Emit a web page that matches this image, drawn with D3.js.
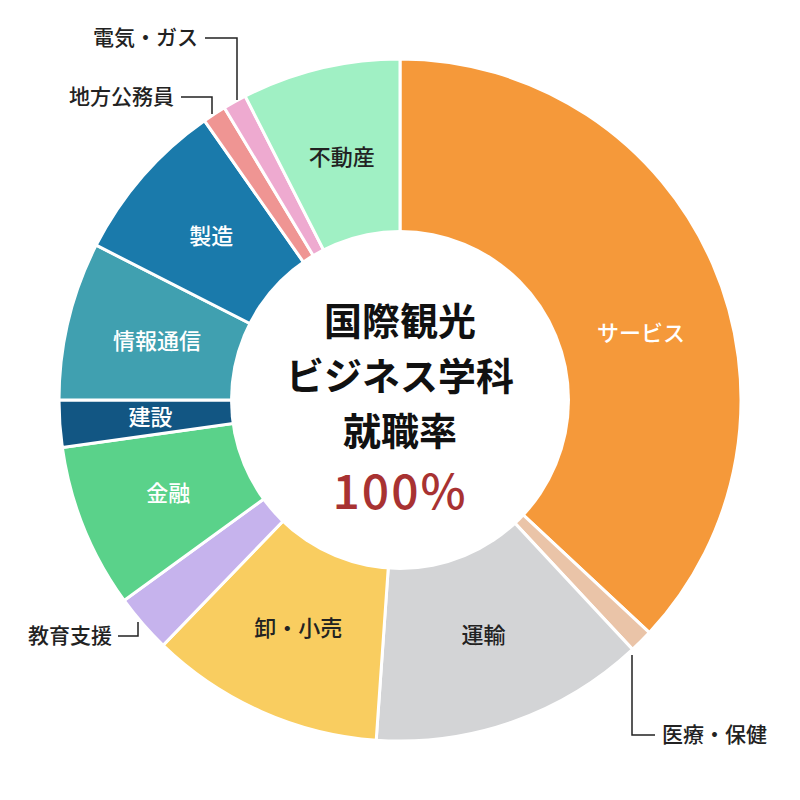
<!DOCTYPE html>
<html><head><meta charset="utf-8">
<script src="https://cdn.jsdelivr.net/npm/d3@7"></script>
<style>body{margin:0;background:#fff}text{font-family:"Noto Sans CJK JP",sans-serif}</style>
</head><body><div id="app"></div>
<script>
// slice values (degrees of the ring)
const categories = ['サービス','医療・保健','運輸','卸・小売','教育支援','金融','建設','情報通信','製造','地方公務員','電気・ガス','不動産'];
const values = [133, 4, 47, 40, 10, 28, 8, 27, 28, 4, 4, 27];
const colors = ['#f5993a','#eac4a8','#d3d4d6','#f9cd60','#c6b3ed','#5ad28a','#125683','#40a0b0','#1a7aab','#ef9593','#eeaad0','#a0f0c4'];
const inside = {'サービス':'#fff','運輸':'#222','卸・小売':'#222','金融':'#fff','建設':'#fff','情報通信':'#fff','製造':'#fff','不動産':'#222'};
const centerLines = ['国際観光','ビジネス学科','就職率'];
const rate = '100%';

const svg = d3.select('#app').append('svg').attr('width',800).attr('height',800);
const g = svg.append('g').attr('transform','translate(400,400)');
const data = categories.map((c,i) => ({name:c, value:values[i], color:colors[i]}));
const arcs = d3.pie().value(d => d.value).sort(null)(data);
const arc = d3.arc().innerRadius(0).outerRadius(341);

g.selectAll('path').data(arcs).join('path')
  .attr('d', arc).attr('fill', d => d.data.color)
  .attr('stroke','#fff').attr('stroke-width',3);

g.append('circle').attr('r',170).attr('fill','#fff');

const labelArc = d3.arc().innerRadius(250).outerRadius(250);
// the big slice's label sits lower than its centroid in the reference
const labelPos = d => {
  if (d.data.name === 'サービス') {
    const a = d.startAngle + (d.endAngle - d.startAngle) * 0.56;
    return [Math.sin(a) * 250, -Math.cos(a) * 250];
  }
  return labelArc.centroid(d);
};
g.selectAll('text.in').data(arcs.filter(d => inside[d.data.name])).join('text')
  .attr('class','in')
  .attr('transform', d => `translate(${labelPos(d)})`)
  .attr('text-anchor','middle').attr('dy','0.35em')
  .attr('font-size',22).attr('font-weight',500)
  .attr('fill', d => inside[d.data.name])
  .text(d => d.data.name);

// outside labels with leader lines (absolute coords)
const outside = [
  {name:'電気・ガス', tx:198, ty:38, anchor:'end', pts:[[205,38],[237,38],[237,100]]},
  {name:'地方公務員', tx:174, ty:97, anchor:'end', pts:[[181,97],[212,97],[212,114]]},
  {name:'教育支援', tx:112, ty:636, anchor:'end', pts:[[118,636],[138,636],[138,622]]},
  {name:'医療・保健', tx:662, ty:735, anchor:'start', pts:[[632,655],[632,735],[655,735]]}
];
svg.selectAll('path.lead').data(outside).join('path').attr('class','lead')
  .attr('d', d => d3.line()(d.pts)).attr('fill','none').attr('stroke','#222').attr('stroke-width',1.5);
svg.selectAll('text.out').data(outside).join('text').attr('class','out')
  .attr('x', d => d.tx).attr('y', d => d.ty).attr('dy','0.35em')
  .attr('text-anchor', d => d.anchor).attr('font-size',21).attr('font-weight',500).attr('fill','#222')
  .text(d => d.name);

g.selectAll('text.c').data(centerLines).join('text').attr('class','c')
  .attr('x',0).attr('y',(d,i) => -78 + i*55).attr('dy','0.35em')
  .attr('text-anchor','middle').attr('font-size',38).attr('font-weight',700).attr('fill','#111')
  .text(d => d);
g.append('text').attr('x',0).attr('y',92).attr('dy','0.35em').attr('text-anchor','middle')
  .attr('font-size',48).attr('font-weight',500).attr('fill','#a83232').attr('letter-spacing',2)
  .text(rate);
</script></body></html>
